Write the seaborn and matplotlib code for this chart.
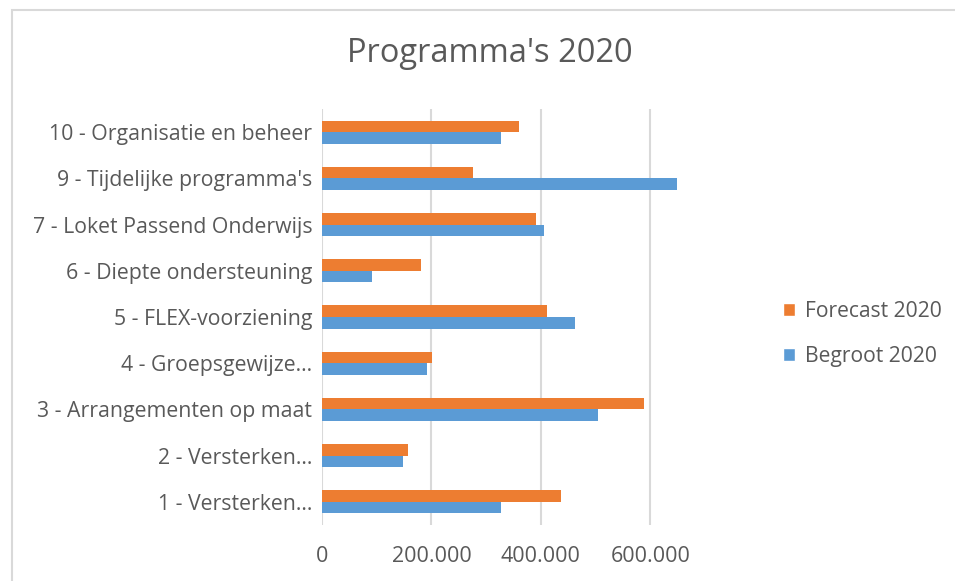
import matplotlib
matplotlib.use("Agg")
import matplotlib.pyplot as plt
import seaborn as sns
import pandas as pd
from matplotlib.patches import Rectangle, Patch
from matplotlib.ticker import FuncFormatter

categories = [
    "10 - Organisatie en beheer",
    "9 - Tijdelijke programma's",
    "7 - Loket Passend Onderwijs",
    "6 - Diepte ondersteuning",
    "5 - FLEX-voorziening",
    "4 - Groepsgewijze...",
    "3 - Arrangementen op maat",
    "2 - Versterken...",
    "1 - Versterken...",
]
forecast_2020 = [360000, 276000, 391000, 181000, 412000, 201000, 588000, 157000, 436000]
begroot_2020 = [328000, 649000, 406000, 91000, 462000, 192000, 504000, 148000, 328000]
series_names = ["Forecast 2020", "Begroot 2020"]
x_ticks = [0, 200000, 400000, 600000]

df = pd.DataFrame({
    "Programma": categories * 2,
    "Bedrag": forecast_2020 + begroot_2020,
    "Serie": [series_names[0]] * len(categories) + [series_names[1]] * len(categories),
})

sns.set_theme(style="white")
plt.rcParams["font.family"] = ["Open Sans", "DejaVu Sans"]

text_color = "#595959"
colors = {"Forecast 2020": "#ED7D31", "Begroot 2020": "#5B9BD5"}

fig = plt.figure(figsize=(9.55, 5.81), dpi=100)
ax = fig.add_axes([322 / 955, 1 - 525 / 581, (705 - 322) / 955, (525 - 109) / 581])

sns.barplot(data=df, y="Programma", x="Bedrag", hue="Serie", hue_order=series_names,
            order=categories, palette=colors, width=0.5, orient="h", ax=ax,
            legend=False, saturation=1, errorbar=None, linewidth=0)

ax.set_xlim(0, 700000)
ax.set_xticks(x_ticks)
ax.xaxis.set_major_formatter(FuncFormatter(lambda v, p: "0" if v == 0 else f"{int(v):,}".replace(",", ".")))
ax.grid(axis="x", color="#D9D9D9", linewidth=1.5)
ax.set_axisbelow(True)
for s in ax.spines.values():
    s.set_visible(False)
ax.set_xlabel("")
ax.set_ylabel("")
ax.tick_params(axis="both", length=0, labelcolor=text_color)
ax.tick_params(axis="y", pad=7, labelsize=15.3)
ax.tick_params(axis="x", pad=15, labelsize=15.5)

fig.text(490 / 955, 1 - 53 / 581, "Programma's 2020", ha="center", va="center",
         fontsize=23.5, color=text_color)

handles = [Patch(facecolor=colors[n], label=n) for n in series_names]
leg = fig.legend(handles=handles, loc="center left", bbox_to_anchor=(764 / 955, 1 - 334 / 581),
                 frameon=False, fontsize=15.2, labelcolor=text_color, handlelength=0.55,
                 handleheight=0.55, handletextpad=0.5, labelspacing=1.15)

fig.patches.append(Rectangle((12 / 955, -0.1), 1.2, 1 - 10 / 581 + 0.1, transform=fig.transFigure,
                             fill=False, edgecolor="#D9D9D9", linewidth=1.5, zorder=-1))

fig.savefig("out.png", dpi=100)
